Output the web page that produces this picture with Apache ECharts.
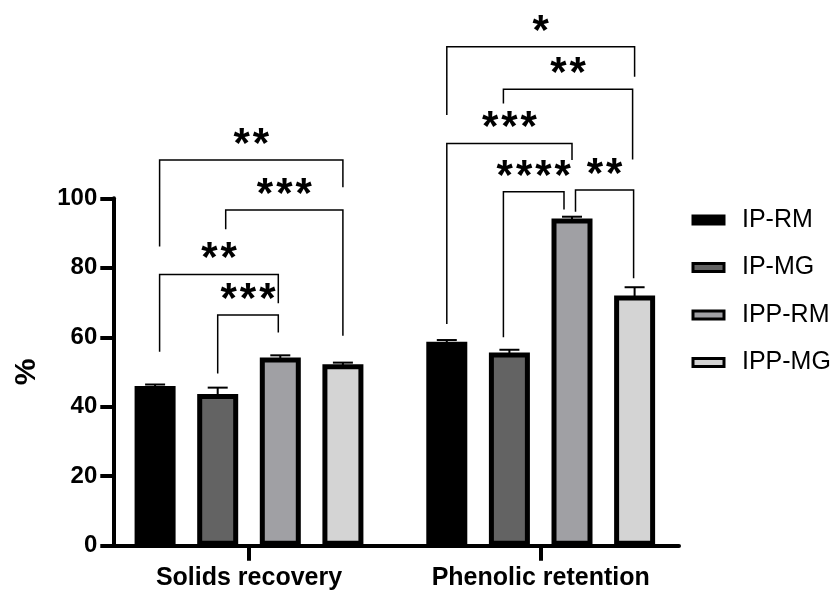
<!DOCTYPE html>
<html>
<head>
<meta charset="utf-8">
<script src="https://cdn.jsdelivr.net/npm/echarts@6/dist/echarts.min.js"></script>
<style>html,body{margin:0;padding:0;background:#fff;}#main{width:838px;height:592px;}</style>
</head>
<body>
<div id="main"></div>
<script>
// ---- data ----
const categories = ['Solids recovery', 'Phenolic retention'];
const seriesNames = ['IP-RM', 'IP-MG', 'IPP-RM', 'IPP-MG'];
const ipRM = [46.0, 58.7];
const ipMG = [43.7, 55.6];
const ippRM = [54.2, 94.2];
const ippMG = [52.2, 72.0];
const ipRMErr = [0.4, 0.5];
const ipMGErr = [1.8, 0.8];
const ippRMErr = [0.6, 0.5];
const ippMGErr = [0.5, 2.4];
const yTicks = [0, 20, 40, 60, 80, 100];

// significance brackets (group, from bar, to bar, top level, left end, right end, label)
const bracketGroup = [0, 0, 0, 0, 1, 1, 1, 1, 1];
const bracketFrom = [0, 1, 0, 1, 0, 1, 0, 1, 2];
const bracketTo = [3, 3, 2, 2, 3, 3, 2, 2, 3];
const bracketTop = [111.0, 96.6, 78.1, 66.4, 143.6, 131.4, 115.8, 101.9, 102.4];
const bracketLeftEnd = [86.1, 91.1, 55.8, 49.6, 124.0, 127.3, 63.8, 60.0, 96.1];
const bracketRightEnd = [103.2, 60.4, 69.8, 61.4, 135.0, 111.2, 111.0, 96.8, 77.0];
const bracketLabel = ['**', '***', '**', '***', '*', '**', '***', '****', '**'];

// ---- styling ----
const colors = ['#000000', '#636363', '#a0a0a4', '#d4d4d4'];
const FONT = '"Liberation Sans", Arial, sans-serif';
const BAR_W = 41;
const BAR_PITCH = 62.6;
const nudgeL = [4.5, 8, 4.5, 0, 0, -6, 0, -6, 3.5];
const nudgeR = [0, 0, -2, -2, 0, -2, 0, -8, -1];
const STAR_PITCH = 19.3;
const STAR_SIZE = 42;

const values = [ipRM, ipMG, ippRM, ippMG];
const errs = [ipRMErr, ipMGErr, ippRMErr, ippMGErr];
const groupPos = categories.map((c, i) => i + 1);

const barSeries = seriesNames.map((name, s) => ({
  name: name,
  type: 'bar',
  barWidth: BAR_W,
  barGap: ((BAR_PITCH - BAR_W) / BAR_W * 100).toFixed(1) + '%',
  itemStyle: { color: colors[s], borderColor: '#000', borderWidth: 5 },
  data: values[s].map((v, g) => [groupPos[g], v]),
  z: 2
}));

const errData = [];
seriesNames.forEach((n, s) => values[s].forEach((v, g) => errData.push([groupPos[g], v, s, errs[s][g]])));

const errSeries = {
  type: 'custom',
  z: 5,
  silent: true,
  data: errData,
  renderItem: function (params, api) {
    const g = api.value(0), m = api.value(1), s = api.value(2), e = api.value(3);
    const p0 = api.coord([g, m]);
    const p1 = api.coord([g, m + e]);
    const x = p0[0] + (s - 1.5) * BAR_PITCH;
    return {
      type: 'group',
      children: [
        { type: 'line', shape: { x1: x, y1: p0[1] + 2, x2: x, y2: p1[1] }, style: { stroke: '#000', lineWidth: 2 } },
        { type: 'line', shape: { x1: x - 10, y1: p1[1], x2: x + 10, y2: p1[1] }, style: { stroke: '#000', lineWidth: 2 } }
      ]
    };
  }
};

const brData = bracketGroup.map((g, i) => [groupPos[g], bracketTop[i], i]);
const bracketSeries = {
  type: 'custom',
  z: 6,
  silent: true,
  clip: false,
  data: brData,
  renderItem: function (params, api) {
    const i = api.value(2);
    const gx = api.coord([api.value(0), 0])[0];
    const xl = gx + (bracketFrom[i] - 1.5) * BAR_PITCH + nudgeL[i];
    const xr = gx + (bracketTo[i] - 1.5) * BAR_PITCH + nudgeR[i];
    const yt = api.coord([api.value(0), bracketTop[i]])[1];
    const yl = api.coord([api.value(0), bracketLeftEnd[i]])[1];
    const yr = api.coord([api.value(0), bracketRightEnd[i]])[1];
    const children = [{
      type: 'polyline',
      shape: { points: [[xl, yl], [xl, yt], [xr, yt], [xr, yr]] },
      style: { stroke: '#000', lineWidth: 1.5, fill: null }
    }];
    const n = bracketLabel[i].length;
    const cx = (xl + xr) / 2;
    const cy = yt - 24;
    for (let k = 0; k < n; k++) {
      children.push({
        type: 'text',
        x: cx + (k - (n - 1) / 2) * STAR_PITCH,
        y: cy + 0.22 * STAR_SIZE,
        style: {
          text: bracketLabel[i][k],
          fontFamily: FONT,
          fontWeight: 'bold',
          fontSize: STAR_SIZE,
          fill: '#000',
          align: 'center',
          verticalAlign: 'middle'
        }
      });
    }
    return { type: 'group', children: children };
  }
};

const chart = echarts.init(document.getElementById('main'), null, { renderer: 'canvas' });
chart.setOption({
  animation: false,
  backgroundColor: '#fff',
  grid: { left: 113.3, right: 159, top: 198.3, bottom: 46.3, outerBoundsMode: 'none', containLabel: false },
  legend: {
    orient: 'vertical',
    left: 691.5,
    top: 206,
    padding: 0,
    itemWidth: 31,
    itemHeight: 8,
    itemGap: 19.5,
    icon: 'rect',
    itemStyle: { borderColor: '#000', borderWidth: 3 },
    textStyle: { fontFamily: FONT, fontSize: 25, color: '#000', lineHeight: 28, padding: [0, 0, 0, 13] },
    data: seriesNames
  },
  xAxis: {
    type: 'value',
    min: 0.5348,
    max: 2.4741,
    splitLine: { show: false },
    axisLine: { show: true, lineStyle: { color: '#000', width: 4 } },
    axisTick: { show: true, customValues: groupPos, length: 15, lineStyle: { color: '#000', width: 4 } },
    axisLabel: {
      customValues: groupPos,
      formatter: function (v) { return categories[Math.round(v) - 1] || ''; },
      fontFamily: FONT, fontWeight: 'bold', fontSize: 25, color: '#000', margin: 20
    }
  },
  yAxis: {
    type: 'value',
    min: yTicks[0],
    max: yTicks[yTicks.length - 1],
    interval: 20,
    name: '%',
    nameLocation: 'middle',
    nameGap: 72,
    nameMoveOverlap: false,
    nameRotate: 90,
    nameTextStyle: { fontFamily: FONT, fontWeight: 'bold', fontSize: 30, color: '#000' },
    splitLine: { show: false },
    axisLine: { show: true, lineStyle: { color: '#000', width: 4 } },
    axisTick: { show: true, length: 13, lineStyle: { color: '#000', width: 4 } },
    axisLabel: { fontFamily: FONT, fontWeight: 'bold', fontSize: 24, color: '#000', margin: 16 }
  },
  series: barSeries.concat([errSeries, bracketSeries])
});
</script>
</body>
</html>
